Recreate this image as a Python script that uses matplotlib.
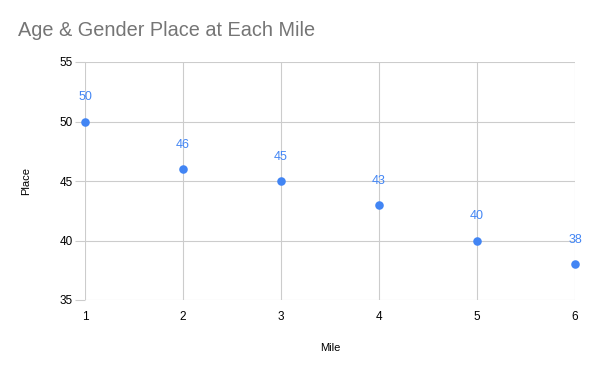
import matplotlib
matplotlib.use("Agg")
import matplotlib.pyplot as plt

MILES = [1, 2, 3, 4, 5, 6]
PLACES = [50, 46, 45, 43, 40, 38]
Y_TICKS = [35, 40, 45, 50, 55]

BLUE = "#4285F4"
GRID = "#cccccc"

plt.rcParams["font.family"] = ["Liberation Sans", "DejaVu Sans"]

fig = plt.figure(figsize=(6, 3.71), dpi=100)
ax = fig.add_axes([85 / 600, 1 - 300 / 371, 490 / 600, 238 / 371])

ax.scatter(MILES, PLACES, s=38, color=BLUE, zorder=3, linewidths=0)
for x, y in zip(MILES, PLACES):
    ax.annotate(str(y), (x, y), xytext=(0, 13), textcoords="offset points",
                ha="center", va="bottom", color=BLUE, fontsize=9)

ax.set_xlim(1, 6)
ax.set_ylim(35, 55)
ax.set_yticks(Y_TICKS)
ax.set_xticks(MILES)
ax.grid(True, color=GRID, linewidth=0.8)
for s in ax.spines.values():
    s.set_visible(False)
ax.tick_params(axis="y", length=7, width=0.8, color=GRID, labelsize=8.5, pad=2)
ax.tick_params(axis="x", length=0, labelsize=8.5, pad=8)
for c in ax.collections:
    c.set_clip_on(False)

ax.set_xlabel("Mile", fontsize=8, labelpad=14)
ax.set_ylabel("Place", fontsize=8, labelpad=20)
fig.text(18 / 600, 1 - 31 / 371, "Age & Gender Place at Each Mile",
         fontsize=14.3, color="#757575", va="center", ha="left")

fig.savefig("out.png", dpi=100)
